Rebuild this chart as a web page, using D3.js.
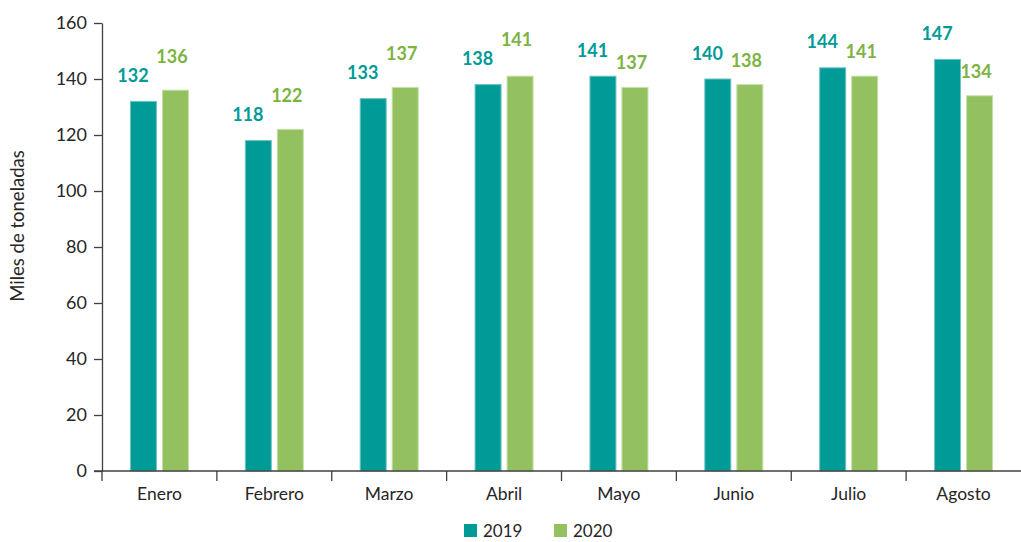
<!DOCTYPE html>
<html lang="es">
<head>
<meta charset="utf-8">
<script src="https://cdn.jsdelivr.net/npm/d3@7"></script>
<style>
  body { margin: 0; background: #fff; }
  text { font-family: Lato, "Open Sans", sans-serif; fill: #262626; }
  .axis path, .axis line { stroke: #404040; stroke-width: 1.3px; }
  .val { font-weight: bold; font-size: 18px; }
</style>
</head>
<body>
<script>
const months = ["Enero", "Febrero", "Marzo", "Abril", "Mayo", "Junio", "Julio", "Agosto"];
const years = ["2019", "2020"];
const v2019 = [132, 118, 133, 138, 141, 140, 144, 147];
const v2020 = [136, 122, 137, 141, 137, 138, 141, 134];
const yTicks = [0, 20, 40, 60, 80, 100, 120, 140, 160];

const barColor = { "2019": "#009a97", "2020": "#93c160" };
const edgeColor = { "2019": "#6fc4c2", "2020": "#c4dfa6" };
const labelColor = { "2019": "#009a97", "2020": "#7cb342" };

const W = 1021, H = 542;
const margin = { top: 23, right: 0, bottom: 71, left: 102 };

const svg = d3.select("body").append("svg")
  .attr("width", W).attr("height", H);

const x = d3.scaleBand().domain(months)
  .range([margin.left, W - margin.right]);
const y = d3.scaleLinear().domain([0, 160])
  .range([H - margin.bottom, margin.top]);

const rows = months.map((m, i) => ({ month: m, vals: [v2019[i], v2020[i]] }));

// bars
const bw = 26, gap = 6;
const bx = (d, k) => x(d.month) + x.bandwidth() / 2 - bw - gap / 2 + k * (bw + gap);
const groups = svg.append("g").selectAll("g").data(rows).enter().append("g");
years.forEach((yr, k) => {
  groups.append("rect")
    .attr("x", d => bx(d, k))
    .attr("y", d => y(d.vals[k]))
    .attr("width", bw)
    .attr("height", d => y(0) - y(d.vals[k]))
    .attr("fill", barColor[yr])
    .attr("stroke", edgeColor[yr])
    .attr("stroke-width", 1);
});

// value labels: 2020 label sits above the 2019 one when its bar is taller
const lab0 = d => y(d.vals[0]) - 19.5;
const lab1 = d => d.vals[1] > d.vals[0] ? lab0(d) - 19 : y(d.vals[1]) - 18;
groups.append("text").attr("class", "val")
  .attr("x", d => bx(d, 0) + bw / 2 - 10.5)
  .attr("y", lab0)
  .attr("text-anchor", "middle")
  .style("fill", labelColor["2019"])
  .text(d => d.vals[0]);
groups.append("text").attr("class", "val")
  .attr("x", d => bx(d, 1) + bw / 2 - 3.5)
  .attr("y", lab1)
  .attr("text-anchor", "middle")
  .style("fill", labelColor["2020"])
  .text(d => d.vals[1]);

// y axis
const yAxis = svg.append("g").attr("class", "axis")
  .attr("transform", `translate(${margin.left},0)`)
  .call(d3.axisLeft(y).tickValues(yTicks).tickSize(8).tickSizeOuter(0).tickPadding(7));
yAxis.selectAll("text").style("font-size", "18px").style("fill", "#262626");

// x axis with ticks at band edges
const xAxis = svg.append("g").attr("class", "axis")
  .attr("transform", `translate(0,${y(0)})`);
xAxis.append("line")
  .attr("x1", margin.left - 8).attr("x2", W - margin.right)
  .attr("y1", 0).attr("y2", 0);
xAxis.selectAll(".tk").data(months).enter().append("line")
  .attr("class", "tk")
  .attr("x1", d => x(d)).attr("x2", d => x(d))
  .attr("y1", 0).attr("y2", 10);
xAxis.selectAll(".lbl").data(months).enter().append("text")
  .attr("class", "lbl")
  .attr("x", d => x(d) + x.bandwidth() / 2)
  .attr("y", 29)
  .attr("text-anchor", "middle")
  .style("font-size", "17.5px")
  .text(d => d);

// axis title (sits a bit above the plot's middle, as in the original)
svg.append("text")
  .attr("transform", "translate(24,226) rotate(-90)")
  .attr("text-anchor", "middle")
  .style("font-size", "18.5px")
  .text("Miles de toneladas");

// legend
const legend = svg.append("g").attr("transform", "translate(464,524)");
years.forEach((yr, k) => {
  const g = legend.append("g").attr("transform", `translate(${k * 90},0)`);
  g.append("rect").attr("width", 13).attr("height", 13).attr("fill", barColor[yr]);
  g.append("text").attr("x", 19).attr("y", 13)
    .style("font-size", "17px").text(yr);
});
</script>
</body>
</html>
